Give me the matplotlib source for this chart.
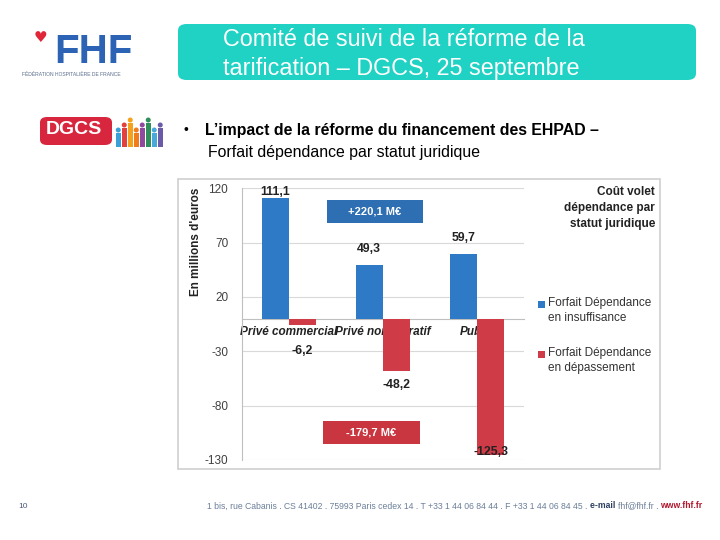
import matplotlib
matplotlib.use("Agg")
import matplotlib.pyplot as plt
from matplotlib.patches import Rectangle, FancyBboxPatch, Ellipse
import numpy as np

# ---- data ----
categories = ["Privé commercial", "Privé non lucratif", "Public"]
insuffisance = [111.1, 49.3, 59.7]
depassement = [-6.2, -48.2, -125.3]
series_names = ["Forfait Dépendance\nen insuffisance", "Forfait Dépendance\nen dépassement"]
yticks = [120, 70, 20, -30, -80, -130]
total_pos = "+220,1 M€"
total_neg = "-179,7 M€"
legend_title = "Coût volet\ndépendance par\nstatut juridique"
ylabel = "En millions d'euros"

BLUE = "#2f7ac6"
RED = "#cf3c47"
BOXBLUE = "#2e6fb3"
BOXRED = "#c9363f"
TEAL = "#20d2c3"

plt.rcParams['font.family'] = ['Liberation Sans', 'DejaVu Sans']

fig = plt.figure(figsize=(7.2, 5.4), dpi=100)
W, H = 720, 540

def fx(px):
    return px / W

def fy(py):
    return 1 - py / H

# ---- slide decorations ----
tb = FancyBboxPatch((fx(178), fy(80)), fx(696) - fx(178), fy(24) - fy(80),
                    boxstyle="round,pad=0,rounding_size=0.012",
                    transform=fig.transFigure, facecolor=TEAL, edgecolor="none")
fig.patches.append(tb)
fig.text(fx(223), fy(40), "Comité de suivi de la réforme de la", color="white",
         fontsize=16.8, va="center", ha="left")
fig.text(fx(223), fy(68), "tarification – DGCS, 25 septembre", color="white",
         fontsize=16.8, va="center", ha="left")

# FHF logo
fig.text(fx(54), fy(52), "FHF", color="#2d63b4", fontsize=29, fontweight="bold",
         va="center", ha="left")
fig.text(fx(40), fy(38), "♥", color="#e0273a", fontsize=11, va="center", ha="center",
         family=["DejaVu Sans"])
fig.text(fx(22), fy(74), "FÉDÉRATION HOSPITALIÈRE DE FRANCE", color="#5a6d8c",
         fontsize=3.6, va="center", ha="left")

# DGCS logo
db = FancyBboxPatch((fx(40), fy(145)), fx(112) - fx(40), fy(117) - fy(145),
                    boxstyle="round,pad=0,rounding_size=0.01",
                    transform=fig.transFigure, facecolor="#d7263d", edgecolor="none")
fig.patches.append(db)
fig.text(fx(74), fy(130), "DGCS", color="white", fontsize=14, fontweight="bold",
         va="center", ha="center")
people_cols = ["#3aa0d8", "#e2413f", "#f4a21d", "#f07c1c", "#8f4aa0", "#2f8f5b", "#4aa7d9", "#6a5aa8"]
for k, c in enumerate(people_cols):
    x0 = 116 + k * 6
    hgt = 14 + (k % 3) * 5
    fig.patches.append(Rectangle((fx(x0), fy(147)), fx(4.5), hgt / H,
                                 transform=fig.transFigure, facecolor=c, edgecolor="none"))
    fig.patches.append(Ellipse((fx(x0 + 2.25), fy(147 - hgt - 3)), fx(5), 5 / H,
                               transform=fig.transFigure, facecolor=c, edgecolor="none"))

# bullet text
fig.text(fx(184), fy(130), "•", fontsize=10, va="center", ha="left")
fig.text(fx(205), fy(130), "L’impact de la réforme du financement des EHPAD –",
         fontsize=11.4, fontweight="bold", va="center", ha="left")
fig.text(fx(208), fy(152), "Forfait dépendance par statut juridique",
         fontsize=11.4, va="center", ha="left")

# chart frame
fig.patches.append(Rectangle((fx(178), fy(469)), fx(660) - fx(178), fy(179) - fy(469),
                             transform=fig.transFigure, facecolor="white",
                             edgecolor="#cfcfcf", linewidth=1.2))

# ---- chart ----
ax = fig.add_axes([fx(242), fy(460), fx(524) - fx(242), fy(188.3) - fy(460)])
ax.set_zorder(2)
ax.patch.set_alpha(0)
x = np.arange(len(categories))
w = 0.29
b1 = ax.bar(x - w / 2, insuffisance, w, color=BLUE, label=series_names[0], zorder=3)
b2 = ax.bar(x + w / 2, depassement, w, color=RED, label=series_names[1], zorder=3)

ax.set_xlim(-0.5, 2.5)
ax.set_ylim(-130, 120)
ax.set_yticks(yticks)
ax.set_yticklabels([str(v) for v in yticks], fontsize=8.5, color="#404040")
ax.yaxis.grid(True, color="#d9d9d9", linewidth=0.8, zorder=0)
ax.tick_params(axis="y", length=0, pad=10)
for s in ["top", "right"]:
    ax.spines[s].set_visible(False)
ax.spines["left"].set_color("#bfbfbf")
ax.spines["bottom"].set_position(("data", 0))
ax.spines["bottom"].set_color("#bfbfbf")
ax.set_xticks(x)
ax.set_xticklabels(categories, fontsize=8.5, fontweight="bold", style="italic", color="#222222")
ax.tick_params(axis="x", length=0, pad=5)
ax.set_axisbelow(True)

fig.text(fx(196), fy(242), ylabel, rotation=90, fontsize=8.5, fontweight="bold",
         va="center", ha="center", color="#222222")

pos_off = [0, 7, 7]
neg_off = [14, 6, -2]
for xi, v, o in zip(x - w / 2, insuffisance, pos_off):
    ax.annotate(f"{v:.1f}".replace(".", ","), (xi, v), xytext=(0, o), textcoords="offset points",
                ha="center", va="bottom", fontsize=8.8, fontweight="bold", color="#222222",
                annotation_clip=False, zorder=5)
for xi, v, o in zip(x + w / 2, depassement, neg_off):
    ax.annotate(f"{v:.1f}".replace(".", ","), (xi, v), xytext=(0, -o), textcoords="offset points",
                ha="center", va="top" if o > 0 else "center", fontsize=8.8, fontweight="bold",
                color="#222222", annotation_clip=False, zorder=5)

# total boxes
ax.add_patch(Rectangle((0.40, 88), 1.03, 21, facecolor=BOXBLUE, edgecolor="none", zorder=4))
ax.text(0.915, 98.5, total_pos, ha="center", va="center", color="white",
        fontsize=8, fontweight="bold", zorder=5)
ax.add_patch(Rectangle((0.36, -115), 1.03, 20.5, facecolor=BOXRED, edgecolor="none", zorder=4))
ax.text(0.875, -104.5, total_neg, ha="center", va="center", color="white",
        fontsize=8, fontweight="bold", zorder=5)

# legend (right side)
fig.text(fx(655), fy(186), legend_title, ha="right", va="top", fontsize=8.5,
         fontweight="bold", color="#222222", linespacing=1.45)
for k, (name, col) in enumerate(zip(series_names, [BLUE, RED])):
    ytop = 297 + k * 50
    fig.patches.append(Rectangle((fx(538), fy(ytop + 10.5)), fx(7), 7 / H,
                                 transform=fig.transFigure, facecolor=col, edgecolor="none"))
    fig.text(fx(548), fy(ytop), name, ha="left", va="top", fontsize=8.5,
             color="#333333", linespacing=1.35)

# footer
fig.text(fx(18), fy(506), "10", color="#4a5a7a", fontsize=6, va="center", ha="left")
fs = 6.2
t1 = fig.text(fx(207), fy(506),
              "1 bis, rue Cabanis . CS 41402 . 75993 Paris cedex 14 . T +33 1 44 06 84 44 . F +33 1 44 06 84 45 . ",
              color="#6b7f99", fontsize=fs, va="center", ha="left")
a2 = ax.annotate("e-mail ", xy=(1, 0), xycoords=t1, va="bottom", ha="left",
                 color="#2b3f63", fontsize=fs, fontweight="bold", annotation_clip=False)
a3 = ax.annotate("fhf@fhf.fr . ", xy=(1, 0), xycoords=a2, va="bottom", ha="left",
                 color="#6b7f99", fontsize=fs, annotation_clip=False)
a4 = ax.annotate("www.fhf.fr", xy=(1, 0), xycoords=a3, va="bottom", ha="left",
                 color="#b0182e", fontsize=fs, fontweight="bold", annotation_clip=False)

fig.savefig("out.png", dpi=100)
